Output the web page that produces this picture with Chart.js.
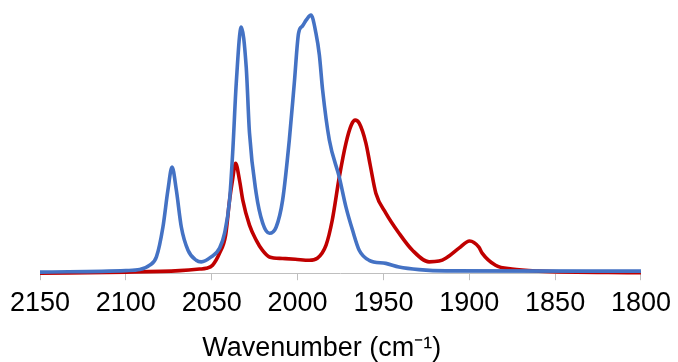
<!DOCTYPE html>
<html>
<head>
<meta charset="utf-8">
<script src="https://cdn.jsdelivr.net/npm/chart.js@4/dist/chart.umd.min.js"></script>
<style>
html,body{margin:0;padding:0;background:#fff;}
#wrap{width:678px;height:362px;}
</style>
</head>
<body>
<div id="wrap"><canvas id="c" width="678" height="362"></canvas></div>
<script>
// Wavenumbers (cm-1) and absorbance (normalised)
const blueWavenumber = [2150, 2100, 2091.9, 2086.1, 2082.2, 2078.4, 2075.5, 2073.1, 2070.6, 2067.7, 2063.8, 2059.0, 2056.1, 2050.3, 2045.4, 2042.5, 2039.6, 2037.7, 2035.7, 2032.8, 2029.9, 2028.0, 2024.1, 2020.3, 2016.4, 2012.5, 2008.7, 2004.8, 2001.9, 1999.4, 1997.2, 1994.9, 1992.2, 1989.3, 1987.3, 1985.4, 1981.5, 1975.7, 1971.8, 1968.0, 1964.1, 1958.3, 1948.6, 1940.9, 1929.2, 1913.7, 1800];
const blueAbsorbance = [0.004, 0.010, 0.014, 0.031, 0.063, 0.179, 0.322, 0.411, 0.322, 0.179, 0.089, 0.050, 0.044, 0.063, 0.097, 0.155, 0.283, 0.477, 0.736, 0.953, 0.798, 0.543, 0.310, 0.194, 0.155, 0.178, 0.283, 0.516, 0.736, 0.930, 0.957, 0.981, 1.000, 0.930, 0.845, 0.709, 0.516, 0.372, 0.256, 0.167, 0.089, 0.050, 0.038, 0.024, 0.014, 0.009, 0.008];

const redWavenumber = [2150, 2100, 2068.7, 2057.1, 2053.2, 2049.5, 2045.4, 2041.9, 2039.6, 2037.9, 2036.1, 2033.8, 2031.9, 2028.0, 2024.1, 2020.5, 2016.4, 2008.8, 2001.3, 1993.1, 1988.5, 1983.4, 1979.8, 1975.7, 1971.8, 1968.7, 1966.4, 1964.1, 1960.2, 1957.7, 1954.4, 1948.6, 1940.9, 1933.1, 1923.4, 1917.6, 1913.7, 1906.0, 1899.8, 1894.4, 1892.5, 1884.7, 1875.2, 1859.5, 1800];
const redAbsorbance = [0.000, 0.004, 0.010, 0.016, 0.019, 0.031, 0.078, 0.147, 0.283, 0.360, 0.426, 0.360, 0.283, 0.186, 0.128, 0.089, 0.063, 0.057, 0.054, 0.050, 0.058, 0.109, 0.205, 0.372, 0.504, 0.574, 0.593, 0.581, 0.504, 0.419, 0.310, 0.233, 0.155, 0.089, 0.044, 0.047, 0.058, 0.097, 0.125, 0.101, 0.078, 0.031, 0.016, 0.008, 0.002];

const xTicks = [2150, 2100, 2050, 2000, 1950, 1900, 1850, 1800];
const xTitle = 'Wavenumber (cm\u207B\u00B9)';

const toPts = (xs, ys) => xs.map((x, i) => ({x: x, y: ys[i]}));

new Chart(document.getElementById('c'), {
  type: 'line',
  data: {
    datasets: [
      {
        label: 'blue',
        data: toPts(blueWavenumber, blueAbsorbance),
        borderColor: '#4472C4',
        borderWidth: 3.6,
        pointRadius: 0,
        cubicInterpolationMode: 'monotone',
        clip: false,
        fill: false
      },
      {
        label: 'red',
        data: toPts(redWavenumber, redAbsorbance),
        borderColor: '#C00000',
        borderWidth: 3.6,
        pointRadius: 0,
        cubicInterpolationMode: 'monotone',
        clip: false,
        fill: false
      }
    ]
  },
  options: {
    responsive: false,
    animation: false,
    devicePixelRatio: 1,
    layout: {padding: {left: 40, right: 34, top: 15, bottom: -3}},
    plugins: {legend: {display: false}, tooltip: {enabled: false}},
    scales: {
      x: {
        type: 'linear',
        reverse: true,
        min: 1800,
        max: 2150,
        afterBuildTicks: (scale) => { scale.ticks = xTicks.map(v => ({value: v})); },
        border: {display: true, color: '#BFBFBF', width: 1},
        grid: {display: true, drawOnChartArea: false, drawTicks: true, tickLength: 7, color: '#BFBFBF'},
        ticks: {
          color: '#000',
          padding: 7,
          maxRotation: 0,
          autoSkip: false,
          callback: (v) => String(v),
          font: {family: '"Liberation Sans", Arial, sans-serif', size: 27}
        },
        title: {
          display: true,
          text: xTitle + '\u00A0\u00A0\u00A0\u00A0\u00A0',
          color: '#000',
          padding: {top: 6, bottom: 0},
          font: {family: '"Liberation Sans", Arial, sans-serif', size: 27}
        }
      },
      y: {
        display: false,
        min: 0,
        max: 1
      }
    }
  }
});
</script>
</body>
</html>
